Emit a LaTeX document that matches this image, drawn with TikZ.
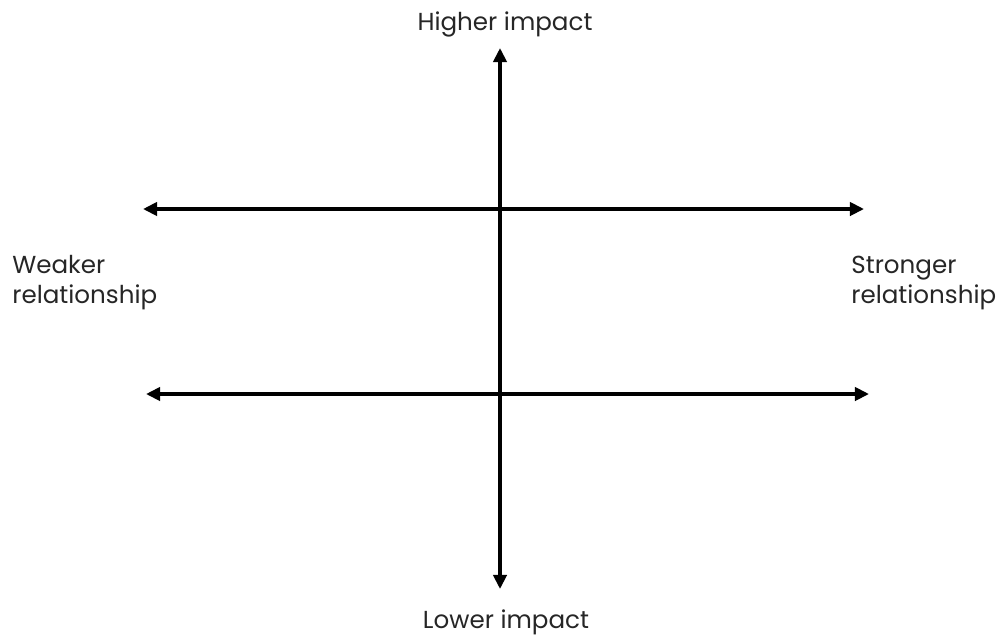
\documentclass[tikz,border=0pt]{standalone}
\usepackage{fontspec}
\setmainfont{Poppins}
\usepackage{tikz}
\usetikzlibrary{arrows.meta, positioning}

\tikzset{
  axisline/.style={{Triangle[length=8pt, width=7.5pt]}-{Triangle[length=8pt, width=7.5pt]}, line width=2pt, black},
  axislabel/.style={font=\fontsize{14}{17}\selectfont, inner sep=0pt, text=black!85, align=left}
}

\begin{document}
\begin{tikzpicture}[x=0.02cm, y=-0.02cm]
  \useasboundingbox (0,0) rectangle (999,637);

  % Axis ends
  \coordinate (vtop) at (500,48);
  \coordinate (vbot) at (500,589);
  \coordinate (uleft) at (143,209);
  \coordinate (uright) at (864,209);
  \coordinate (lleft) at (146,394);
  \coordinate (lright) at (869,394);

  % Axes
  \draw[axisline] (vbot) -- (vtop);
  \draw[axisline] (uleft) -- (uright);
  \draw[axisline] (lleft) -- (lright);

  % Labels
  \node[axislabel, anchor=base] (high) at (505,30) {Higher impact};
  \node[axislabel, anchor=base] (low) at (506,628) {Lower impact};
  \node[axislabel, anchor=base west] (weak) at (12,303) {Weaker\\relationship};
  \node[axislabel, anchor=base west] (strong) at (851,303) {Stronger\\relationship};
\end{tikzpicture}
\end{document}
